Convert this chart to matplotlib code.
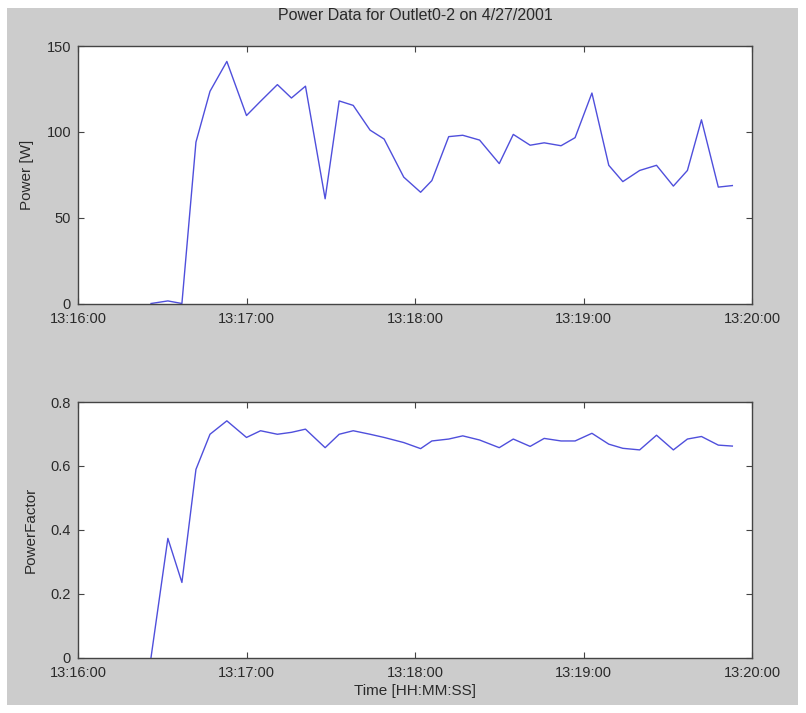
import matplotlib
matplotlib.use("Agg")
import matplotlib.pyplot as plt
from matplotlib.patches import Rectangle

# sample times (HH:MM:SS)
times = ["13:16:26", "13:16:32", "13:16:37", "13:16:42", "13:16:47", "13:16:53",
         "13:17:00", "13:17:05", "13:17:11", "13:17:16", "13:17:21", "13:17:28",
         "13:17:33", "13:17:38", "13:17:44", "13:17:49", "13:17:56", "13:18:02",
         "13:18:06", "13:18:12", "13:18:17", "13:18:23", "13:18:30", "13:18:35",
         "13:18:41", "13:18:46", "13:18:52", "13:18:57", "13:19:03", "13:19:09",
         "13:19:14", "13:19:20", "13:19:26", "13:19:32", "13:19:37", "13:19:42",
         "13:19:48", "13:19:53"]

power = [0, 1.5, 0, 94, 123.6, 141, 109.5, 117.8, 127.5, 119.7, 126.6, 61,
         118, 115.4, 101, 95.8, 73.6, 64.8, 71.6, 97.2, 98, 95.2, 81.5, 98.5,
         92.2, 93.6, 91.9, 96.6, 122.6, 80.5, 71, 77.5, 80.5, 68.4, 77.5, 107,
         67.8, 68.7]

power_factor = [0, 0.373, 0.235, 0.589, 0.699, 0.741, 0.689, 0.71, 0.699, 0.705,
                0.715, 0.657, 0.699, 0.71, 0.699, 0.689, 0.673, 0.654, 0.678,
                0.684, 0.694, 0.681, 0.657, 0.684, 0.661, 0.686, 0.678, 0.678,
                0.702, 0.668, 0.655, 0.650, 0.696, 0.650, 0.684, 0.692, 0.665,
                0.662]

xtick_labels = ["13:16:00", "13:17:00", "13:18:00", "13:19:00", "13:20:00"]
power_ticks = [0, 50, 100, 150]
pf_ticks = [0, 0.2, 0.4, 0.6, 0.8]


def to_seconds(s):
    h, m, sec = (int(p) for p in s.split(":"))
    return h * 3600 + m * 60 + sec


t0 = to_seconds(xtick_labels[0])
t = [to_seconds(s) - t0 for s in times]
xticks = [to_seconds(s) - t0 for s in xtick_labels]

plt.rcParams["font.family"] = ["Liberation Sans", "DejaVu Sans"]
plt.rcParams["font.size"] = 11
text_color = "#2a2a2a"
line_color = "#4f4fdc"

fig = plt.figure(figsize=(8.06, 7.13), dpi=100, facecolor="white")
# gray figure panel, drawn below the axes
fig.patches.append(Rectangle((7 / 806, 1 - 705 / 713), 791 / 806, 697 / 713,
                             transform=fig.transFigure, facecolor="#cccccc",
                             edgecolor="none", zorder=-10))

ax1 = fig.add_axes([78 / 806, 1 - 303.5 / 713, 674 / 806, 257.5 / 713])
ax2 = fig.add_axes([78 / 806, 1 - 657.5 / 713, 674 / 806, 255.5 / 713])

ax1.plot(t, power, color=line_color, linewidth=1.0)
ax2.plot(t, power_factor, color=line_color, linewidth=1.0)

for ax, yt in ((ax1, power_ticks), (ax2, pf_ticks)):
    ax.set_zorder(5)
    ax.set_facecolor("white")
    ax.set_xlim(xticks[0], xticks[-1])
    ax.set_ylim(yt[0], yt[-1])
    ax.set_xticks(xticks)
    ax.set_xticklabels(xtick_labels)
    ax.set_yticks(yt)
    ax.set_yticklabels([f"{v:g}" for v in yt])
    ax.tick_params(direction="in", top=True, right=True, length=4,
                   width=0.8, colors="#444444", labelcolor=text_color,
                   labelsize=10.5)
    ax.tick_params(axis="x", pad=6)
    ax.tick_params(axis="y", pad=5)
    for sp in ax.spines.values():
        sp.set_color("#444444")
        sp.set_linewidth(1.0)

ax1.set_ylabel("Power [W]", color=text_color, labelpad=9)
ax2.set_ylabel("PowerFactor", color=text_color, labelpad=9)
ax2.set_xlabel("Time [HH:MM:SS]", color=text_color, labelpad=3)
ax1.set_title("Power Data for Outlet0-2 on 4/27/2001", color=text_color,
              fontsize=11.5, pad=19)

fig.savefig("out.png", dpi=100, facecolor="white")
